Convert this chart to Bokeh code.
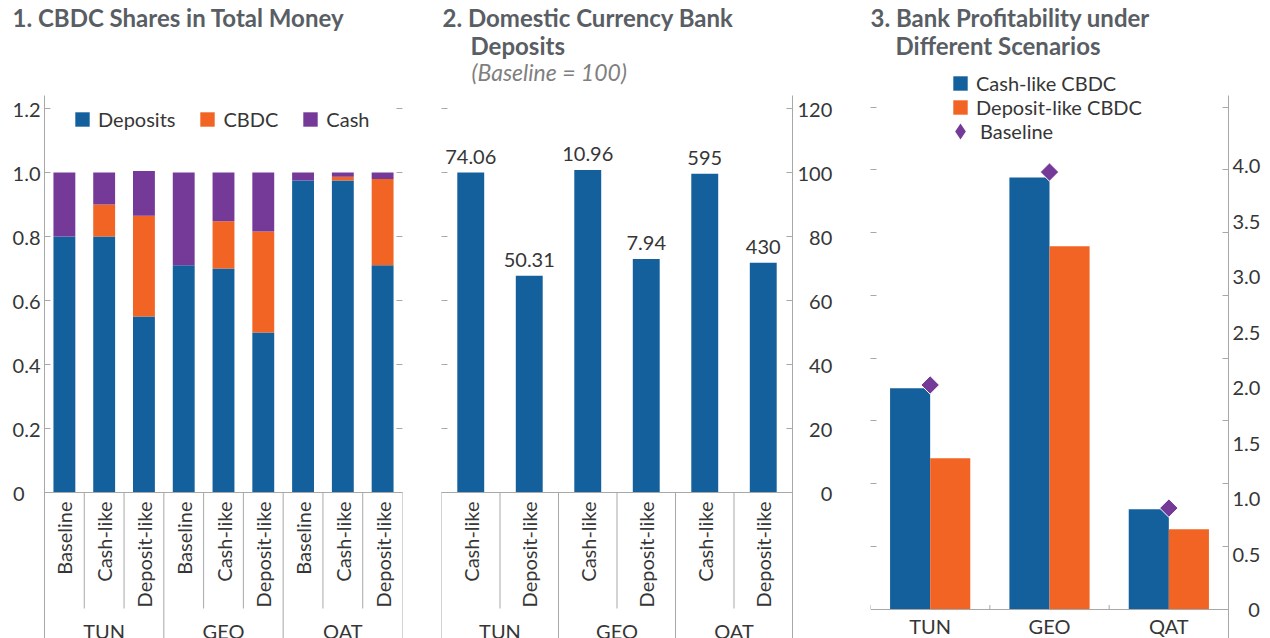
import math
from bokeh.plotting import figure
from bokeh.layouts import row
from bokeh.models import (FactorRange, Range1d, FixedTicker, LinearAxis, Legend,
                          LegendItem, Label, Title, ColumnDataSource)
from bokeh.transform import dodge
from bokeh.embed import file_html
from bokeh.resources import INLINE
from bokeh.core.properties import value

# ---------------- data ----------------
countries = ["TUN", "GEO", "QAT"]

p1_scenarios = ["Baseline", "Cash-like", "Deposit-like"]
p1_series = ["Deposits", "CBDC", "Cash"]
p1_deposits = [0.80, 0.80, 0.55, 0.71, 0.70, 0.50, 0.975, 0.975, 0.71]
p1_cbdc = [0.0, 0.10, 0.315, 0.0, 0.148, 0.316, 0.0, 0.012, 0.27]
p1_cash = [0.20, 0.10, 0.14, 0.29, 0.152, 0.184, 0.025, 0.013, 0.02]
p1_yticks = [0, 0.2, 0.4, 0.6, 0.8, 1.0, 1.2]

p2_scenarios = ["Cash-like", "Deposit-like"]
p2_index = [100.0, 67.7, 100.8, 73.0, 99.6, 71.8]
p2_labels = ["74.06", "50.31", "10.96", "7.94", "595", "430"]
p2_yticks = [0, 20, 40, 60, 80, 100, 120]

p3_series = ["Cash-like CBDC", "Deposit-like CBDC", "Baseline"]
p3_cash_like = [1.99, 3.89, 0.90]
p3_deposit_like = [1.36, 3.27, 0.72]
p3_baseline = [2.02, 3.94, 0.91]
p3_yticks = [0, 0.5, 1.0, 1.5, 2.0, 2.5, 3.0, 3.5, 4.0]

titles = ["1. CBDC Shares in Total Money",
          "2. Domestic Currency Bank", "Deposits", "(Baseline = 100)",
          "3. Bank Profitability under", "Different Scenarios"]

# ---------------- style ----------------
BLUE = "#14609c"
ORANGE = "#f16424"
PURPLE = "#753a98"
GREY = "#a8a8a8"
TXT = "#363636"
TITLE = "#595e64"
SUB = "#7f7f7f"
FONT = "Lato"
FS = "20px"
TFS = "24px"

FIG_H = 638
TOP = 34                 # height of the title strip above every frame
AXIS_TOP = 95            # page y where the axes start


def base_fig(width, left, right, x_range, y_range, yloc):
    p = figure(width=width, height=FIG_H, x_range=x_range, y_range=y_range,
               output_backend="svg", toolbar_location=None,
               y_axis_location=yloc,
               min_border_left=left, min_border_right=right,
               min_border_top=TOP, min_border_bottom=0)
    p.outline_line_color = None
    p.xgrid.visible = False
    p.ygrid.visible = False
    return p


def style_yaxis(ax, ticks, standoff, overrides, bounds):
    ax.ticker = FixedTicker(ticks=ticks)
    ax.major_label_overrides = overrides
    ax.bounds = bounds
    ax.axis_line_color = GREY
    ax.major_tick_line_color = GREY
    ax.major_tick_in = 6
    ax.major_tick_out = 0
    ax.minor_tick_line_color = None
    ax.major_label_standoff = standoff
    ax.major_label_text_font = FONT
    ax.major_label_text_font_size = FS
    ax.major_label_text_color = TXT


def style_xaxis(ax, standoff, rotated):
    ax.fixed_location = 0
    ax.axis_line_color = GREY
    ax.major_tick_line_color = None
    ax.major_tick_in = 0
    ax.major_tick_out = 0
    ax.major_label_standoff = standoff
    ax.major_label_text_font = FONT
    ax.major_label_text_font_size = FS
    ax.major_label_text_color = TXT
    ax.separator_line_color = None
    if rotated:
        ax.major_label_orientation = math.pi / 2
        ax.group_text_font = FONT
        ax.group_text_font_size = FS
        ax.group_text_font_style = "normal"
        ax.group_text_color = TXT


def tick_axis(ticks):
    # tick marks only (drawn as minor ticks, so no labels are produced)
    return LinearAxis(ticker=FixedTicker(ticks=[], minor_ticks=ticks),
                      axis_line_color=None, major_tick_line_color=None,
                      minor_tick_in=6, minor_tick_out=0, minor_tick_line_color=GREY,
                      major_label_standoff=0)


def add_title(p, text, offset):
    p.add_layout(Title(text=text, align="left", offset=offset, vertical_align="middle",
                       standoff=3, text_font=FONT, text_font_size=TFS,
                       text_font_style="bold", text_color=TITLE), "above")


def add_label(p, text, x, y, color=TITLE, style="bold", size=TFS):
    p.add_layout(Label(x=x, y=FIG_H - y, x_units="screen", y_units="screen", text=text,
                       text_font=FONT, text_font_size=size, text_font_style=style,
                       text_color=color, text_baseline="middle", text_align="left"))


def separators(p, factors_by_group, short_y, long_y):
    xs, ys = [], []
    for g, subs in factors_by_group:
        for j, s in enumerate(subs):
            xs.append((g, s, -0.5))
            ys.append(long_y if j == 0 else short_y)
    g, subs = factors_by_group[-1]
    xs.append((g, subs[-1], 0.5))
    ys.append(long_y)
    p.segment(x0=xs, y0=[0] * len(xs), x1=xs, y1=ys, line_color=GREY, line_width=1)


def legend(items, loc, gw, standoff, spacing=0, orientation="vertical"):
    return Legend(items=items, location=loc, orientation=orientation,
                  glyph_width=gw, glyph_height=gw, label_standoff=standoff,
                  spacing=spacing, padding=0, margin=0, border_line_color=None,
                  background_fill_alpha=0, inactive_fill_alpha=0,
                  label_text_font=FONT, label_text_font_size=FS, label_text_color=TXT)


ZERO12 = 492             # page y of the zero line in panels 1 and 2
SHORT_SEP = 608          # page y where the inner category separators end

# ---------------- panel 1 ----------------
PX1 = 320.0
f1 = [(c, s) for c in countries for s in p1_scenarios]
y1 = Range1d(-(FIG_H - ZERO12) / PX1, (ZERO12 - TOP) / PX1)
p1 = base_fig(421, 44, 19,
              FactorRange(factors=f1, factor_padding=0, group_padding=0, range_padding=0),
              y1, "left")
src1 = ColumnDataSource(dict(x=f1, Deposits=p1_deposits, CBDC=p1_cbdc, Cash=p1_cash))
r1 = p1.vbar_stack(p1_series, x="x", width=0.55, source=src1,
                   fill_color=[BLUE, ORANGE, PURPLE], line_color=None)
separators(p1, [(c, p1_scenarios) for c in countries],
           -(SHORT_SEP - ZERO12) / PX1, y1.start)
style_yaxis(p1.yaxis[0], p1_yticks, 4, {0: "0\u2008\u2007", 1.0: "1.0"},
            (y1.start, (ZERO12 - AXIS_TOP) / PX1))
p1.add_layout(tick_axis(p1_yticks), "right")
style_xaxis(p1.xaxis[0], 9, True)
p1.add_layout(legend([LegendItem(label=n, renderers=[r]) for n, r in zip(p1_series, r1)],
                     (29, FIG_H - 131), 18, 7, spacing=23, orientation="horizontal"))
add_title(p1, titles[0], 12 - 44)

# ---------------- panel 2 ----------------
PX2 = 3.2
f2 = [(c, s) for c in countries for s in p2_scenarios]
y2 = Range1d(-(FIG_H - ZERO12) / PX2, (ZERO12 - TOP) / PX2)
p2 = base_fig(430, 20, 59,
              FactorRange(factors=f2, factor_padding=0, group_padding=0, range_padding=0),
              y2, "right")
p2.vbar(x=f2, top=p2_index, width=0.46, fill_color=BLUE, line_color=None)
p2.text(x=f2, y=p2_index, text=p2_labels, text_align="center", text_baseline="bottom",
        y_offset=-9, text_font=value(FONT), text_font_size=FS, text_color=TXT)
separators(p2, [(c, p2_scenarios) for c in countries],
           -(SHORT_SEP - ZERO12) / PX2, y2.start)
style_yaxis(p2.yaxis[0], p2_yticks, 5,
            {0: "\u2007\u20070", 20: "\u200720", 40: "\u200740",
             60: "\u200760", 80: "\u200780"},
            (y2.start, (ZERO12 - AXIS_TOP) / PX2))
p2.add_layout(tick_axis(p2_yticks), "left")
style_xaxis(p2.xaxis[0], 9, True)
add_title(p2, titles[1], 1)
add_label(p2, titles[2], 29, 44.5)
add_label(p2, titles[3], 30, 71.5, color=SUB, style="italic", size="23px")

# ---------------- panel 3 ----------------
ZERO3, PX3 = 608.5, 110.9
y3 = Range1d(-(FIG_H - ZERO3) / PX3, (ZERO3 - TOP) / PX3)
p3 = base_fig(419, 19, 42,
              FactorRange(factors=countries, factor_padding=0, range_padding=0),
              y3, "right")
src3 = ColumnDataSource(dict(c=countries, cash=p3_cash_like, dep=p3_deposit_like,
                             base=p3_baseline))
rc = p3.vbar(x=dodge("c", -0.168, range=p3.x_range), top="cash", width=0.336,
             source=src3, fill_color=BLUE, line_color=None)
rd = p3.vbar(x=dodge("c", 0.168, range=p3.x_range), top="dep", width=0.336,
             source=src3, fill_color=ORANGE, line_color=None)
p3.scatter(x="c", y="base", marker="square", angle=math.pi / 4, size=13,
           source=src3, fill_color=PURPLE, line_color="white", line_width=1)
# legend key for the baseline marker (an undrawn placeholder point)
rs_key = p3.scatter(x=[countries[0]], y=[float("nan")], marker="diamond",
                    fill_color=PURPLE, line_color=None)
bx = [(c, -0.5) for c in countries]
p3.segment(x0=bx, y0=[0] * len(bx), x1=bx, y1=[4 / PX3] * len(bx),
           line_color=GREY, line_width=1)

hidden_ticks = [k * 62.75 / PX3 for k in range(1, 9)]
ya3 = p3.yaxis[0]
style_yaxis(ya3, p3_yticks, 4, {0: "\u2007\u20080", 1.0: "1.0", 2.0: "2.0",
                                3.0: "3.0", 4.0: "4.0"},
            (y3.start, (ZERO3 - AXIS_TOP) / PX3))
ya3.ticker = FixedTicker(ticks=p3_yticks, minor_ticks=hidden_ticks)
ya3.major_tick_line_color = None
ya3.major_tick_in = 0
ya3.minor_tick_line_color = GREY
ya3.minor_tick_in = 6
ya3.minor_tick_out = 0
p3.add_layout(tick_axis(hidden_ticks), "left")
style_xaxis(p3.xaxis[0], 5, False)

p3.add_layout(legend([LegendItem(label=p3_series[0], renderers=[rc]),
                      LegendItem(label=p3_series[1], renderers=[rd])],
                     (81, FIG_H - 119), 18, 7))
p3.add_layout(legend([LegendItem(label=p3_series[2], renderers=[rs_key])],
                     (70, FIG_H - 151), 40, 0))
add_title(p3, titles[4], 0)
add_label(p3, titles[5], 25, 44.5)

layout = row(p1, p2, p3, spacing=0)
open("out.html", "w").write(file_html(layout, INLINE))
